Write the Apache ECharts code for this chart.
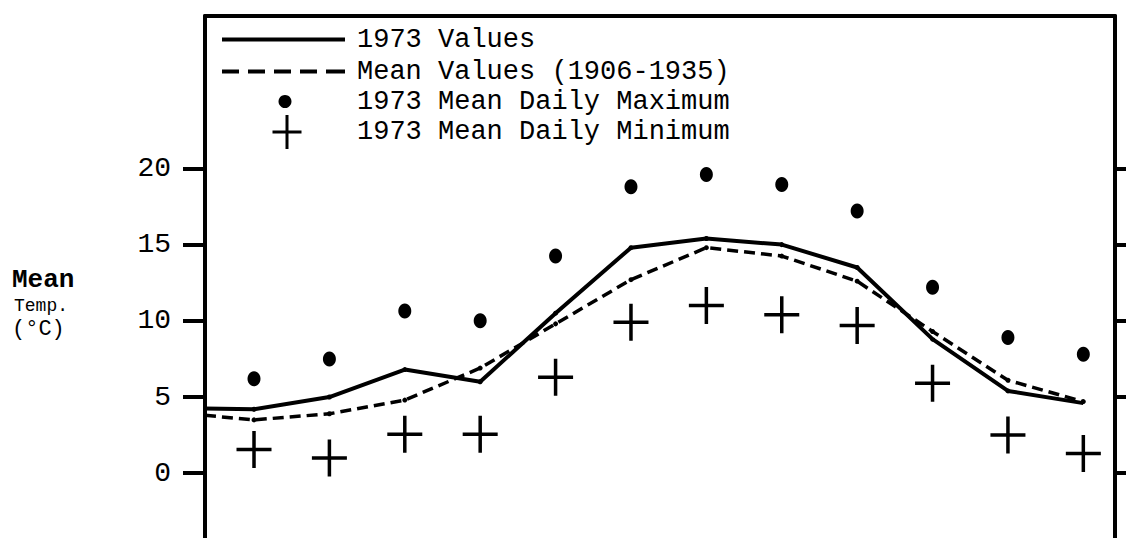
<!DOCTYPE html>
<html>
<head>
<meta charset="utf-8">
<script src="https://cdn.jsdelivr.net/npm/echarts@6/dist/echarts.min.js"></script>
<style>
html,body{margin:0;padding:0;background:#fff;}
#chart{width:1126px;height:538px;}
</style>
</head>
<body>
<div id="chart"></div>
<script>
// ---- data ----
const months = [1, 2, 3, 4, 5, 6, 7, 8, 9, 10, 11, 12];
const values1973 = [4.2, 5.0, 6.8, 6.0, 10.5, 14.8, 15.4, 15.0, 13.5, 8.8, 5.4, 4.6];
const meanValues = [3.5, 3.9, 4.8, 6.9, 9.8, 12.7, 14.8, 14.25, 12.6, 9.3, 6.1, 4.7];
const maxValues = [6.2, 7.5, 10.65, 10.0, 14.25, 18.8, 19.6, 18.95, 17.2, 12.2, 8.9, 7.8];
const minValues = [1.55, 1.0, 2.55, 2.55, 6.3, 9.9, 11.0, 10.4, 9.7, 5.9, 2.5, 1.3];
const leadIn1973 = 4.25;   // value where the 1973 curve meets the left axis
const leadInMean = 3.8;    // value where the mean curve meets the left axis
const yTicks = [0, 5, 10, 15, 20];
const names = ['1973 Values', 'Mean Values (1906-1935)', '1973 Mean Daily Maximum', '1973 Mean Daily Minimum'];

const X_MIN = 0.35, X_MAX = 12.42;
const Y_MIN = -4.25, Y_MAX = 30;
const FONT = '"Liberation Mono", "DejaVu Sans Mono", monospace';

const pairs = (vals) => months.map((m, i) => [m, vals[i]]);
const line1973 = [[X_MIN, leadIn1973]].concat(pairs(values1973));
const lineMean = [[X_MIN, leadInMean]].concat(pairs(meanValues));

const plusData = 'path://M15.75,0H19.25V37H15.75Z M0,16.75H35V20.25H0Z';
const plusLegend = 'path://M13,0H16V34H13Z M0,15.5H29V18.5H0Z';
const solidLegend = 'path://M0,0H123V4H0Z';
const dashLegend = 'path://M0,0H17V4H0Z M26,0H43V4H26Z M52,0H69V4H52Z M78,0H95V4H78Z M104,0H123V4H104Z';

const chart = echarts.init(document.getElementById('chart'), null, {renderer: 'svg'});
const axisBlack = {color: '#000', width: 4};
const legendText = {color: '#000', fontFamily: FONT, fontSize: 27};

chart.setOption({
  animation: false,
  backgroundColor: '#fff',
  grid: {left: 205, right: 11, top: 16, bottom: 0},
  xAxis: [
    {type: 'value', min: X_MIN, max: X_MAX, show: false},
    {type: 'value', position: 'top', min: X_MIN, max: X_MAX,
     axisLine: {show: true, onZero: false, lineStyle: axisBlack},
     axisTick: {show: false}, axisLabel: {show: false}, splitLine: {show: false}}
  ],
  yAxis: [
    {type: 'value', min: Y_MIN, max: Y_MAX, position: 'left',
     axisLine: {show: true, lineStyle: axisBlack},
     axisTick: {show: true, customValues: yTicks, length: 22, lineStyle: {color: '#000', width: 4}},
     axisLabel: {customValues: yTicks, margin: 34, color: '#000', fontFamily: FONT, fontSize: 28,
                 padding: [0, 0, 6, 0]},
     splitLine: {show: false}},
    {type: 'value', min: Y_MIN, max: Y_MAX, position: 'right',
     axisLine: {show: true, lineStyle: axisBlack},
     axisTick: {show: true, customValues: yTicks, length: 20, lineStyle: {color: '#000', width: 4}},
     axisLabel: {show: false},
     splitLine: {show: false}}
  ],
  legend: [
    {orient: 'vertical', align: 'left', left: 222, top: 26, padding: 0, itemWidth: 123, itemHeight: 14, itemGap: 5,
     selectedMode: false,
     data: [{name: names[0], icon: solidLegend}, {name: names[1], icon: dashLegend}],
     textStyle: Object.assign({padding: [0, 0, 0, 7]}, legendText)},
    {orient: 'vertical', align: 'left', left: 278.5, top: 88, padding: 0, itemWidth: 102, itemHeight: 13,
     selectedMode: false,
     data: [{name: names[2], icon: 'circle'}],
     textStyle: Object.assign({padding: [0, 0, 0, 16]}, legendText)},
    {orient: 'vertical', align: 'left', left: 272.5, top: 115, padding: 0, itemWidth: 108, itemHeight: 34,
     selectedMode: false,
     data: [{name: names[3], icon: plusLegend}],
     textStyle: Object.assign({padding: [0, 0, 0, 11]}, legendText)}
  ],
  graphic: [
    {type: 'text', x: 12, y: 280, style: {text: 'Mean', fill: '#000', font: 'bold 26px ' + FONT, verticalAlign: 'middle'}},
    {type: 'text', x: 14, y: 306, style: {text: 'Temp.', fill: '#000', font: '18px ' + FONT, verticalAlign: 'middle'}},
    {type: 'text', x: 12, y: 329, style: {text: '(°C)', fill: '#000', font: '22px ' + FONT, verticalAlign: 'middle'}}
  ],
  series: [
    {name: names[0], type: 'line', data: line1973, symbol: 'none',
     lineStyle: {color: '#000', width: 4}, itemStyle: {color: '#000'}},
    {name: names[1], type: 'line', data: lineMean, symbol: 'none',
     lineStyle: {color: '#000', width: 3.5, type: [11, 6]}, itemStyle: {color: '#000'}},
    {name: 'v1973', type: 'scatter', data: pairs(values1973), symbol: 'circle', symbolSize: 9,
     itemStyle: {color: '#000', borderColor: '#fff', borderWidth: 4, opacity: 1}},
    {name: 'vMean', type: 'scatter', data: pairs(meanValues), symbol: 'circle', symbolSize: 9,
     itemStyle: {color: '#000', borderColor: '#fff', borderWidth: 4, opacity: 1}},
    {name: names[2], type: 'scatter', data: pairs(maxValues), symbol: 'circle', symbolSize: [13, 15],
     itemStyle: {color: '#000', opacity: 1}},
    {name: names[3], type: 'scatter', data: pairs(minValues), symbol: plusData, symbolSize: [35, 37],
     itemStyle: {color: '#000', opacity: 1}}
  ]
});
</script>
</body>
</html>
